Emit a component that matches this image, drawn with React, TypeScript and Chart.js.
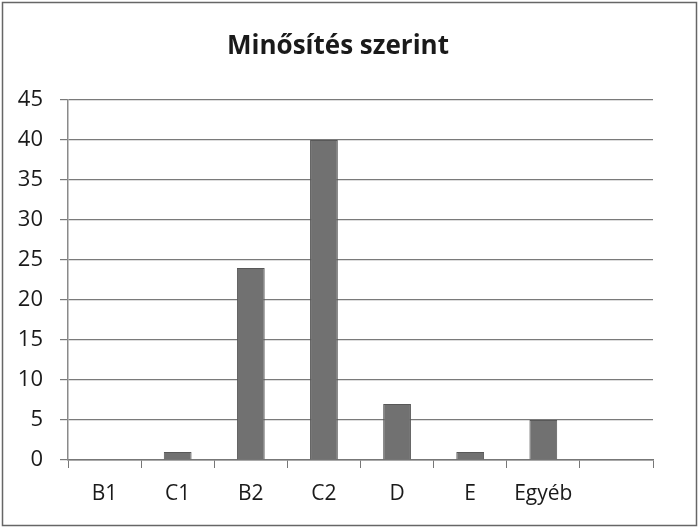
import React, { useEffect, useRef } from "react";
import { Chart, registerables } from "chart.js";

Chart.register(...registerables);

const title = "Minősítés szerint";
const categories = ["B1", "C1", "B2", "C2", "D", "E", "Egyéb", ""];
const values = [0, 1, 24, 40, 7, 1, 5, null];
const yTicks = [0, 5, 10, 15, 20, 25, 30, 35, 40, 45];

const FONT = "'Open Sans', 'Noto Sans', sans-serif";

const borderPlugin = {
  id: "outerBorder",
  beforeDraw(chart: any) {
    const ctx = chart.ctx;
    ctx.save();
    ctx.fillStyle = "#ffffff";
    ctx.fillRect(0, 0, chart.width, chart.height);
    ctx.strokeStyle = "#666666";
    ctx.lineWidth = 1.5;
    ctx.strokeRect(2.5, 2.5, chart.width - 5, chart.height - 5);
    ctx.restore();
  },
  afterDraw(chart: any) {
    const ctx = chart.ctx;
    ctx.save();
    ctx.fillStyle = "#1a1a1a";
    ctx.font = `bold 26px ${FONT}`;
    ctx.textAlign = "center";
    ctx.textBaseline = "middle";
    ctx.fillText(title, 338, 47);
    ctx.restore();
  },
};

export default function App() {
  const ref = useRef<HTMLCanvasElement | null>(null);
  useEffect(() => {
    if (!ref.current) return;
    const chart = new Chart(ref.current, {
      type: "bar",
      data: {
        labels: categories,
        datasets: [
          {
            data: values as any,
            backgroundColor: "#717171",
            borderColor: "#585858",
            borderWidth: 1,
            barPercentage: 0.38,
            categoryPercentage: 1,
          },
        ],
      },
      options: {
        responsive: false,
        animation: false,
        devicePixelRatio: 1,
        layout: { padding: { left: 0, right: 46, top: 100, bottom: 0 } },
        plugins: {
          legend: { display: false },
          tooltip: { enabled: false },
          title: { display: false },
        },
        scales: {
          x: {
            offset: true,
            grid: {
              offset: true,
              drawOnChartArea: false,
              drawTicks: true,
              tickLength: 8,
              color: "#777777",
            },
            border: { display: true, color: "#777777", width: 1.5 },
            ticks: {
              color: "#1a1a1a",
              padding: 13,
              font: { family: FONT, size: 21 },
              maxRotation: 0,
              autoSkip: false,
            },
            afterFit: (s: any) => {
              s.height = 68;
            },
          },
          y: {
            min: 0,
            max: 45,
            afterBuildTicks: (s: any) => {
              s.ticks = yTicks.map((v) => ({ value: v }));
            },
            grid: {
              color: "#7a7a7a",
              lineWidth: 1.2,
              tickLength: 8,
              drawTicks: true,
            },
            border: { display: true, color: "#8a8a8a", width: 1.5 },
            ticks: {
              color: "#1a1a1a",
              padding: 17,
              font: { family: FONT, size: 22 },
            },
            afterFit: (s: any) => {
              s.width = 68;
            },
          },
        },
      },
      plugins: [borderPlugin],
    });
    return () => chart.destroy();
  }, []);
  return (
    <div style={{ position: "fixed", left: 0, top: 0, width: 699, height: 528 }}>
      <canvas ref={ref} width={699} height={528} style={{ width: 699, height: 528 }} />
    </div>
  );
}
